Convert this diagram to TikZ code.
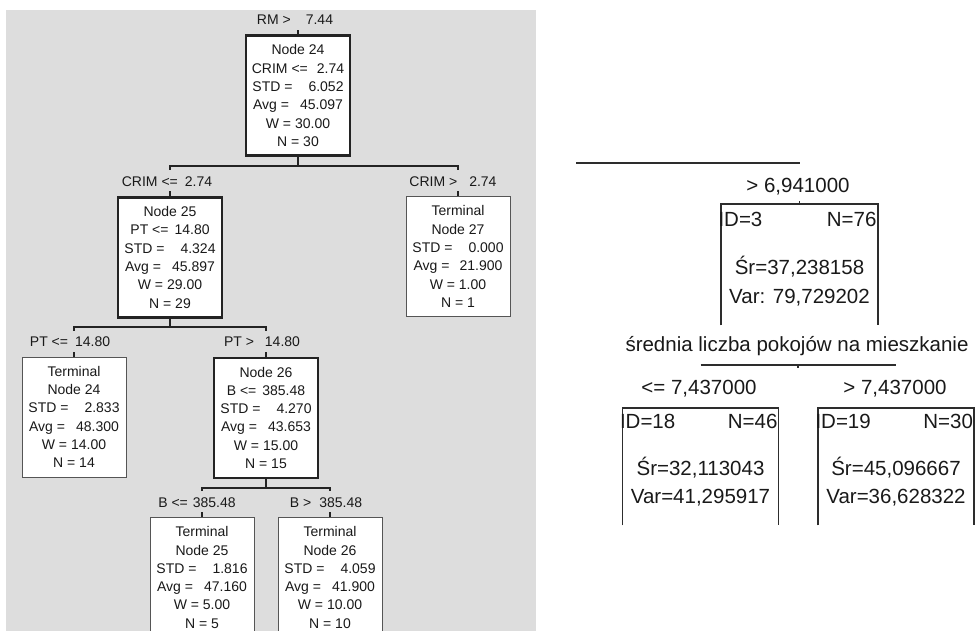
\documentclass[tikz,border=0pt]{standalone}
\usepackage{fontspec}
\setmainfont{Liberation Sans}
\usetikzlibrary{positioning,calc}
\definecolor{panelgray}{RGB}{221,221,221}
\definecolor{treeline}{RGB}{35,35,35}
\definecolor{termline}{RGB}{85,85,85}
\definecolor{sideline}{RGB}{45,45,45}
\definecolor{inktext}{RGB}{25,25,25}

\begin{document}
\begin{tikzpicture}[x=1pt, y=-1pt,
  every node/.style={inner sep=0pt, text=inktext},
  small/.style={font=\fontsize{14}{18.3}\selectfont},
  big/.style={font=\fontsize{20.5}{24}\selectfont},
  splitbox/.style={small, draw=treeline, line width=2.6pt, fill=white, align=center,
    minimum width=104pt, minimum height=120pt, anchor=north},
  termbox/.style={splitbox, draw=termline, line width=1pt},
  cond/.style={small, anchor=base},
  bar/.style={draw=treeline, line width=2pt},
  openbox/.style={minimum width=156pt, minimum height=117pt, anchor=north},
  side/.style={draw=sideline, line width=1.5pt}]
\path[use as bounding box] (0,0) rectangle (976,631);
\clip (0,0) rectangle (976,631);

% left panel: regression tree
\fill[panelgray] (6,10) rectangle (536,631);

\node[splitbox] (n24) at (298,34.3) {Node 24\\CRIM <=\hspace{9pt}2.74\\STD =\hspace{16pt}6.052\\Avg =\hspace{11pt}45.097\\W = 30.00\\N = 30};
\node[cond] (c24) at (295,25) {RM >\hspace{15pt}7.44};

\node[splitbox] (n25) at (170,196) {Node 25\\PT <=\hspace{6pt}14.80\\STD =\hspace{16pt}4.324\\Avg =\hspace{11pt}45.897\\W = 29.00\\N = 29};
\node[cond] (c25) at (167,186) {CRIM <=\hspace{7pt}2.74};
\node[termbox] (t27) at (458,196) {Terminal\\Node 27\\STD =\hspace{16pt}0.000\\Avg =\hspace{10pt}21.900\\W = 1.00\\N = 1};
\node[cond] (c27) at (453,186) {CRIM >\hspace{12pt}2.74};

\node[termbox] (t24) at (74,356.5) {Terminal\\Node 24\\STD =\hspace{16pt}2.833\\Avg =\hspace{11pt}48.300\\W = 14.00\\N = 14};
\node[cond] (c24t) at (70,346.5) {PT <=\hspace{7pt}14.80};
\node[splitbox] (n26) at (266,356.5) {Node 26\\B <=\hspace{6pt}385.48\\STD =\hspace{16pt}4.270\\Avg =\hspace{11pt}43.653\\W = 15.00\\N = 15};
\node[cond] (c26) at (262,346.5) {PT >\hspace{11pt}14.80};

\node[termbox] (t25) at (202,517) {Terminal\\Node 25\\STD =\hspace{16pt}1.816\\Avg =\hspace{11pt}47.160\\W = 5.00\\N = 5};
\node[cond] (c25t) at (197,507) {B <=\hspace{5pt}385.48};
\node[termbox] (t26) at (330,517) {Terminal\\Node 26\\STD =\hspace{16pt}4.059\\Avg =\hspace{11pt}41.900\\W = 10.00\\N = 10};
\node[cond] (c26t) at (326,507) {B >\hspace{8pt}385.48};

\draw[bar] (n24.north) -- ++(0,-4.5);
\draw[bar] (n24.south) -- ++(0,9);
\draw[bar] ($(n25.north)+(0,-26)$) |- ($(n24.south)+(0,9)$) -| ($(t27.north)+(0,-26)$);
\draw[bar] (n25.north) -- ++(0,-5);
\draw[bar] (t27.north) -- ++(0,-5);
\draw[bar] (n25.south) -- ++(0,8.5);
\draw[bar] ($(t24.north)+(0,-26)$) |- ($(n25.south)+(0,8.5)$) -| ($(n26.north)+(0,-26)$);
\draw[bar] (t24.north) -- ++(0,-5);
\draw[bar] (n26.north) -- ++(0,-5);
\draw[bar] (n26.south) -- ++(0,8.5);
\draw[bar] ($(t25.north)+(0,-26)$) |- ($(n26.south)+(0,8.5)$) -| ($(t26.north)+(0,-26)$);
\draw[bar] (t25.north) -- ++(0,-5);
\draw[bar] (t26.north) -- ++(0,-5);

% right panel: open boxes
\coordinate (feed) at (576,163);
\node[openbox, minimum width=157pt, minimum height=121pt] (r3) at (799.5,204) {};
\draw[side] (feed) -- (feed -| r3.north);
\draw[side] (r3.north) -- ++(0,-3);
\draw[side] (r3.south west) -- (r3.north west) -- (r3.north east) -- (r3.south east);
\node[big, anchor=base] (g3) at (798,192.3) {> 6,941000};
\node[big, anchor=base west] (id3) at ($(r3.north west)+(-2.5,22)$) {ID=3};
\node[big, anchor=base east] (n3) at ($(r3.north east)+(-1.5,22)$) {N=76};
\node[big, anchor=base] (m3) at ($(r3.north)+(0,70)$) {Śr=37,238158};
\node[big, anchor=base] (v3) at ($(r3.north)+(0,99)$) {Var: 79,729202};

\node[big, anchor=base] (split) at (797,351.3) {średnia liczba pokojów na mieszkanie};
\coordinate (fork) at (798,365);
\node[openbox] (r18) at (700.5,408) {};
\node[openbox] (r19) at (896,408) {};
\draw[side] (fork -| r18.north) -- (fork -| r19.north);
\draw[side] (fork) -- ++(0,3);
\node[big, anchor=base] (g18) at (699,394.3) {<= 7,437000};
\node[big, anchor=base] (g19) at (895,394.3) {> 7,437000};

\draw[side] (r18.south west) -- (r18.north west) -- (r18.north east) -- (r18.south east);
\node[big, anchor=base west] (id18) at ($(r18.north west)+(-2.5,20.5)$) {ID=18};
\node[big, anchor=base east] (n18) at ($(r18.north east)+(-1,20.5)$) {N=46};
\node[big, anchor=base] (m18) at ($(r18.north)+(0,67.5)$) {Śr=32,113043};
\node[big, anchor=base] (v18) at ($(r18.north)+(0,95.5)$) {Var=41,295917};

\draw[side] (r19.south west) -- (r19.north west) -- (r19.north east) -- (r19.south east);
\node[big, anchor=base west] (id19) at ($(r19.north west)+(-2.5,20.5)$) {ID=19};
\node[big, anchor=base east] (n19) at ($(r19.north east)+(-1,20.5)$) {N=30};
\node[big, anchor=base] (m19) at ($(r19.north)+(0,67.5)$) {Śr=45,096667};
\node[big, anchor=base] (v19) at ($(r19.north)+(0,95.5)$) {Var=36,628322};
\end{tikzpicture}
\end{document}
